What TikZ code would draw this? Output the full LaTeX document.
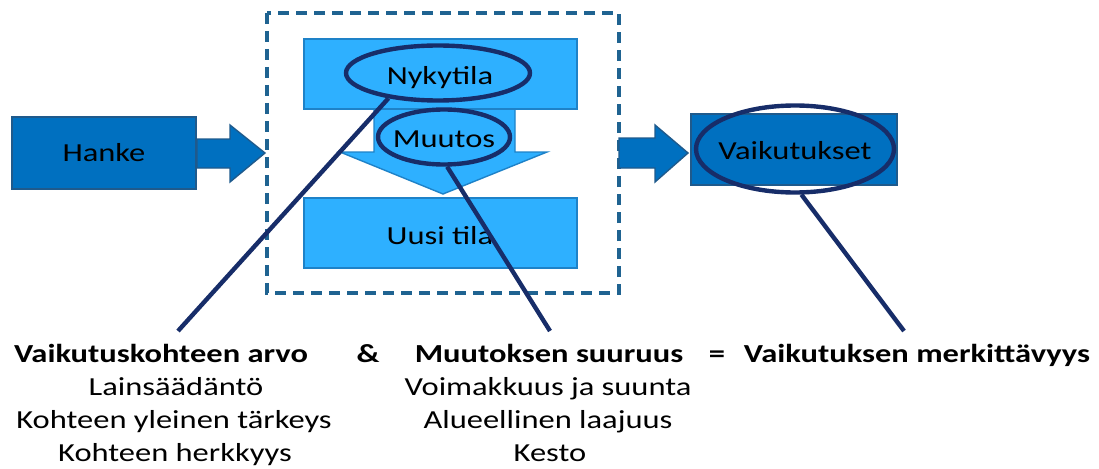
\documentclass[tikz,border=0pt]{standalone}
\usepackage{fontspec}
\setmainfont{Carlito}[FakeStretch=1.25]
\usetikzlibrary{shapes.geometric}
\definecolor{dkblue}{RGB}{0,112,192}
\definecolor{dkborder}{RGB}{31,90,140}
\definecolor{ltblue}{RGB}{46,176,255}
\definecolor{ltborder}{RGB}{30,130,200}
\definecolor{navy}{RGB}{23,45,105}
\definecolor{dashc}{RGB}{31,99,145}
\tikzset{
  lbl/.style={font=\fontsize{26}{33}\selectfont, text height=16.8pt, text depth=0pt, inner sep=0pt},
  dkbox/.style={draw=dkborder, fill=dkblue, line width=1.4pt, inner sep=0pt},
  ltbox/.style={draw=ltborder, fill=ltblue, line width=1.4pt, inner sep=0pt},
  ring/.style={ellipse, draw=navy, line width=4.4pt, inner sep=0pt},
  pointer/.style={draw=navy, line width=4.4pt},
  btxt/.style={font=\fontsize{26}{33}\selectfont, anchor=base, inner sep=0pt},
}
\begin{document}
\begin{tikzpicture}[x=1pt,y=-1pt]
\useasboundingbox (0,0) rectangle (1099,468);
% dashed frame
\draw[dashc, line width=3.2pt, dash pattern=on 11pt off 7pt] (267,13) rectangle (619,293);
% block arrows
\filldraw[fill=dkblue, draw=dkborder, line width=1.4pt]
  (197,139) -- (230,139) -- (230,125) -- (265,153) -- (230,182) -- (230,168) -- (197,168) -- cycle;
\filldraw[fill=dkblue, draw=dkborder, line width=1.4pt]
  (619,138) -- (655,138) -- (655,125) -- (688,153) -- (655,182) -- (655,168) -- (619,168) -- cycle;
\filldraw[fill=ltblue, draw=ltborder, line width=1.4pt]
  (374,109) -- (374,152) -- (340,152) -- (443,194) -- (547,152) -- (515,152) -- (515,109) -- cycle;
% boxes
\node[dkbox, minimum width=184pt, minimum height=72pt] (hanke) at (104,153) {};
\node[lbl] (hankeT) at (104,153) {Hanke};
\node[ltbox, minimum width=273pt, minimum height=70pt] (nykybox) at (440.5,74) {};
\node[ltbox, minimum width=273pt, minimum height=70pt] (uusi) at (440.5,233) {};
\node[lbl] (uusiT) at (440,236) {Uusi tila};
\node[dkbox, minimum width=206pt, minimum height=71pt] (vaibox) at (794,149.5) {};
% ellipses
\node[ring, minimum width=184pt, minimum height=55pt] (nyk) at (438,73) {};
\node[lbl] (nykT) at (440,76) {Nykytila};
\node[ring, minimum width=132pt, minimum height=55pt] (mu) at (444,137) {};
\node[lbl] (muT) at (444,139) {Muutos};
\node[ring, minimum width=198pt, minimum height=87pt] (vai) at (795,149) {};
\node[lbl] (vaiT) at (795,151) {Vaikutukset};
% pointer lines
\coordinate (e1) at (178,331);
\coordinate (e2) at (550,331);
\coordinate (e3) at (904,331);
\draw[pointer] (nyk.207) -- (e1);
\draw[pointer] (mu.276) -- (e2);
\draw[pointer] (vai.278) -- (e3);
% bottom texts
\node[btxt] (h1) at (161,362) {\bfseries Vaikutuskohteen arvo};
\node[btxt] (amp) at (368,362) {\bfseries \&};
\node[btxt] (h2) at (549,362) {\bfseries Muutoksen suuruus};
\node[btxt] (eq) at (717,362) {\bfseries =};
\node[btxt] (h3) at (917,362) {\bfseries Vaikutuksen merkittävyys};
\node[btxt] (a1) at (176,395) {Lainsäädäntö};
\node[btxt] (a2) at (174,428) {Kohteen yleinen tärkeys};
\node[btxt] (a3) at (175,461) {Kohteen herkkyys};
\node[btxt] (b1) at (548,395) {Voimakkuus ja suunta};
\node[btxt] (b2) at (548,428) {Alueellinen laajuus};
\node[btxt] (b3) at (550,461) {Kesto};
\end{tikzpicture}
\end{document}
